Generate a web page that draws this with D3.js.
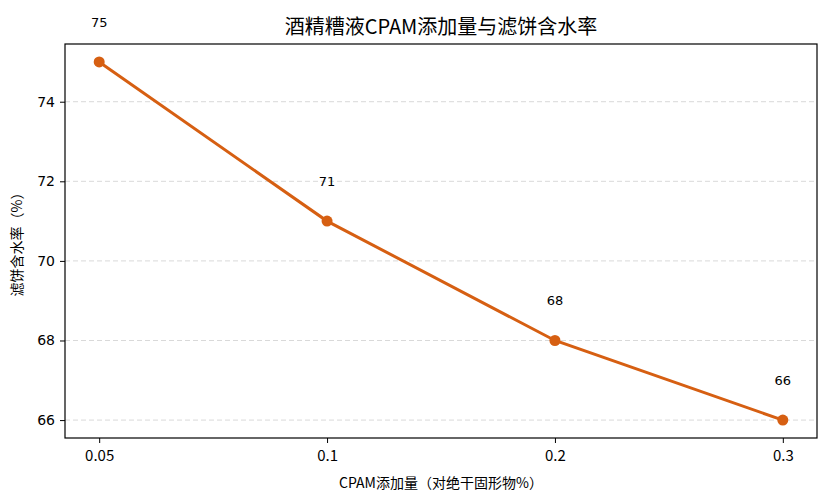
<!DOCTYPE html>
<html>
<head>
<meta charset="utf-8">
<script src="https://cdn.jsdelivr.net/npm/d3@7"></script>
<style>
  body { margin: 0; background: #fff; }
  svg text { font-family: "Noto Sans CJK SC", "DejaVu Sans", sans-serif; }
</style>
</head>
<body>
<div id="chart"></div>
<script>
const doses = ["0.05", "0.1", "0.2", "0.3"];
const moisture = [75, 71, 68, 66];
const yTicks = [66, 68, 70, 72, 74];

const width = 828, height = 503;
const margin = { top: 44, right: 11, bottom: 65, left: 65 };
const color = "#d65f12";

const svg = d3.select("#chart").append("svg")
  .attr("width", width).attr("height", height);

const plotW = width - margin.left - margin.right;
const plotH = height - margin.top - margin.bottom;

// categorical x with matplotlib-like 5% padding
const x = d3.scaleLinear()
  .domain([-0.15, doses.length - 1 + 0.15])
  .range([margin.left, margin.left + plotW]);

const y = d3.scaleLinear()
  .domain([65.55, 75.45])
  .range([margin.top + plotH, margin.top]);

// grid
svg.append("g")
  .selectAll("line")
  .data(yTicks)
  .join("line")
  .attr("x1", margin.left).attr("x2", margin.left + plotW)
  .attr("y1", d => y(d)).attr("y2", d => y(d))
  .attr("stroke", "#d9d9d9")
  .attr("stroke-dasharray", "5,3")
  .attr("stroke-width", 1);

// axes
const xAxis = d3.axisBottom(x)
  .tickValues(d3.range(doses.length))
  .tickFormat(i => doses[i])
  .tickSizeOuter(0).tickSize(5).tickPadding(7);
const gx = svg.append("g")
  .attr("transform", `translate(0,${margin.top + plotH})`)
  .call(xAxis);
gx.select(".domain").remove();
gx.selectAll("text").attr("font-size", 15).attr("fill", "#000");

const yAxis = d3.axisLeft(y)
  .tickValues(yTicks)
  .tickSizeOuter(0).tickSize(5).tickPadding(5);
const gy = svg.append("g")
  .attr("transform", `translate(${margin.left},0)`)
  .call(yAxis);
gy.select(".domain").remove();
gy.selectAll("text").attr("font-size", 14).attr("fill", "#000")
  .style("font-family", "'DejaVu Sans', sans-serif");

svg.append("rect")
  .attr("x", margin.left).attr("y", margin.top)
  .attr("width", plotW).attr("height", plotH)
  .attr("fill", "none").attr("stroke", "#000").attr("stroke-width", 1.2);

// line
const line = d3.line()
  .x((d, i) => x(i))
  .y(d => y(d));

svg.append("path")
  .datum(moisture)
  .attr("fill", "none")
  .attr("stroke", color)
  .attr("stroke-width", 3)
  .attr("d", line);

svg.append("g")
  .selectAll("circle")
  .data(moisture)
  .join("circle")
  .attr("cx", (d, i) => x(i))
  .attr("cy", d => y(d))
  .attr("r", 5.5)
  .attr("fill", color);

// value labels, one unit above each point
svg.append("g")
  .selectAll("text")
  .data(moisture)
  .join("text")
  .attr("x", (d, i) => x(i))
  .attr("y", d => y(d + 1))
  .attr("text-anchor", "middle")
  .attr("dy", "0.35em")
  .attr("font-size", 13)
  .style("font-family", "'DejaVu Sans', sans-serif")
  .text(d => d);

// titles
svg.append("text")
  .attr("x", margin.left + plotW / 2)
  .attr("y", 34)
  .attr("text-anchor", "middle")
  .attr("font-size", 20)
  .text("酒精糟液CPAM添加量与滤饼含水率");

svg.append("text")
  .attr("x", margin.left + plotW / 2)
  .attr("y", 488)
  .attr("text-anchor", "middle")
  .attr("font-size", 14)
  .text("CPAM添加量（对绝干固形物%）");

svg.append("text")
  .attr("transform", `translate(22,${margin.top + plotH / 2}) rotate(-90)`)
  .attr("text-anchor", "middle")
  .attr("font-size", 14)
  .text("滤饼含水率（%）");
</script>
</body>
</html>
